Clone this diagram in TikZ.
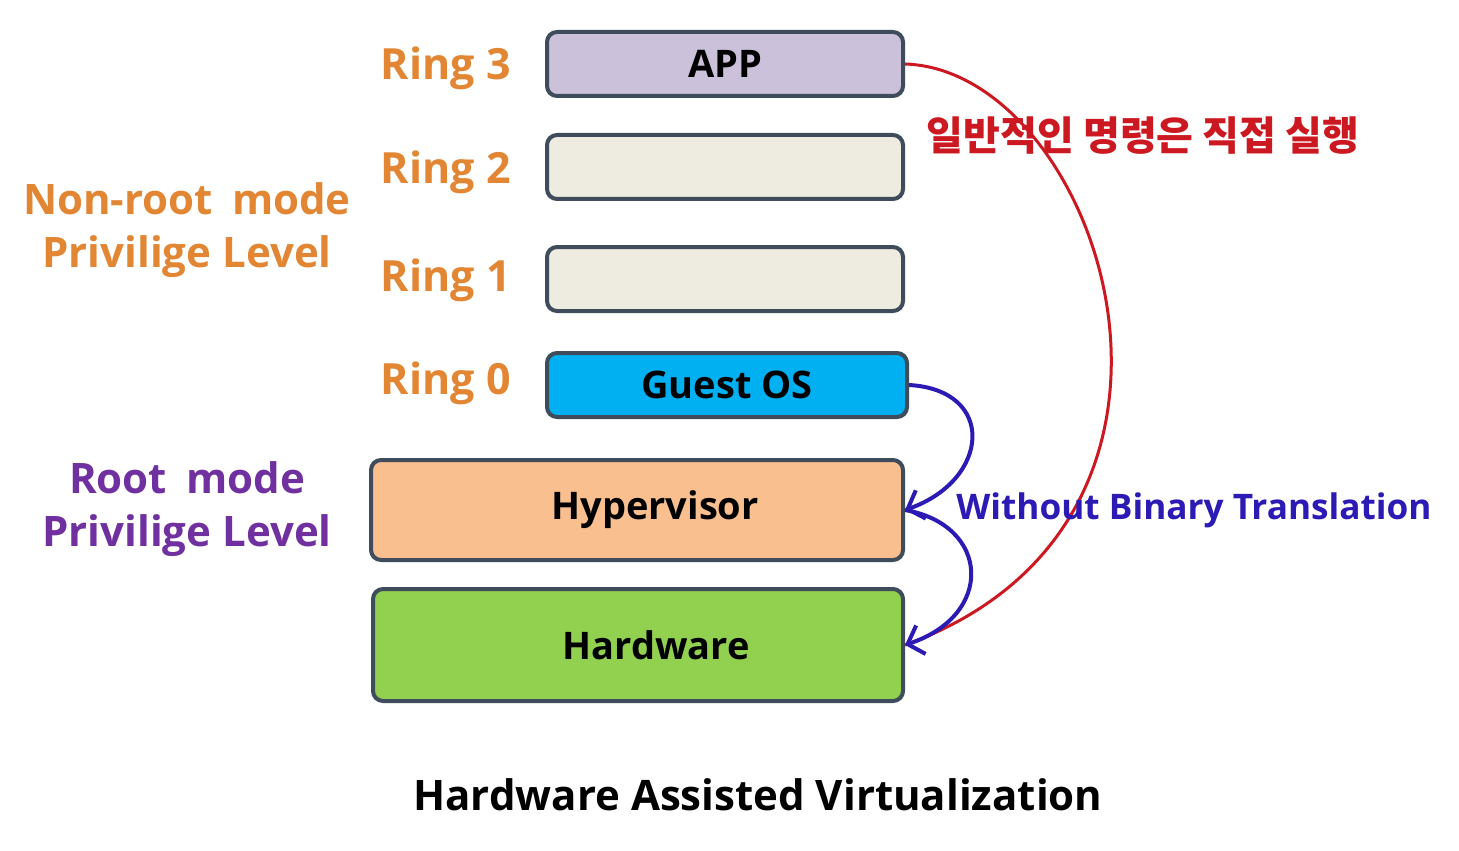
\documentclass[tikz,border=0pt]{standalone}
\usepackage{fontspec}
\setmainfont{Open Sans}
\newfontfamily\kofont{Noto Sans CJK KR}
\usetikzlibrary{arrows.meta}
\definecolor{cadre}{RGB}{62,76,92}
\definecolor{appfill}{RGB}{204,193,218}
\definecolor{ringfill}{RGB}{238,236,225}
\definecolor{guestfill}{RGB}{0,176,240}
\definecolor{hyperfill}{RGB}{250,191,143}
\definecolor{hardfill}{RGB}{146,208,80}
\definecolor{orangetxt}{RGB}{226,134,52}
\definecolor{violettxt}{RGB}{112,48,160}
\definecolor{rougetxt}{RGB}{204,24,32}
\definecolor{bleutxt}{RGB}{44,26,180}
\begin{document}
\begin{tikzpicture}[x=0.5pt,y=-0.5pt,font=\fontsize{19}{23}\selectfont\bfseries,
  box/.style={draw=cadre,line width=2pt,rounded corners=5pt,inner sep=0pt,minimum width=178pt,minimum height=32pt},
  ringlbl/.style={anchor=east,inner sep=0pt,text=orangetxt,font=\fontsize{21.5}{25}\selectfont\bfseries},
  modelbl/.style={align=center,font=\fontsize{21}{26.5}\selectfont\bfseries},
  >={Straight Barb[length=7pt,width=15pt]}]
\useasboundingbox (0,0) rectangle (1459,850);
% les anneaux
\node[box,fill=appfill] (app) at (725,64) {APP};
\node[box,fill=ringfill] (ringb) at (725,167) {};
\node[box,fill=ringfill] (ringa) at (725,279) {};
\node[box,fill=guestfill,minimum width=180pt] (guest) at (727,385) {Guest OS};
\node[box,fill=hyperfill,minimum width=266pt,minimum height=50pt] (hyper) at (637,510) {\hspace*{18pt}Hypervisor};
\node[box,fill=hardfill,minimum width=265pt,minimum height=56pt] (hard) at (638,645) {\hspace*{18pt}Hardware};
\node[ringlbl] (r3) at (511,68) {Ring 3};
\node[ringlbl] (r2) at (511,172) {Ring 2};
\node[ringlbl] (r1) at (511,280) {Ring 1};
\node[ringlbl] (r0) at (511,383) {Ring 0};
% les modes
\node[modelbl,text=orangetxt] (nonroot) at (187,230) {Non-root\hspace{0.2em} mode\\Privilige Level};
\node[modelbl,text=violettxt] (root) at (187,509) {Root\hspace{0.2em} mode\\Privilige Level};
% les fleches
\draw[rougetxt,line width=1.5pt] (app.east) .. controls (1100,70) and (1250,520) .. (hard.east); % execution directe
\draw[bleutxt,line width=2pt,->] (guest.east) .. controls (997,390) and (990,480) .. (hyper.east);
\draw[bleutxt,line width=2pt,->] (hyper.east) .. controls (990,525) and (995,615) .. (hard.east);
\node[text=rougetxt,font=\kofont\fontsize{20}{24}\selectfont\bfseries] (direct) at (1143,136) {일반적인 명령은 직접 실행};
\node[text=bleutxt,font=\fontsize{17.6}{21}\selectfont\bfseries] (sansbt) at (1194,510) {Without Binary Translation};
\node[font=\fontsize{21}{25}\selectfont\bfseries] (titre) at (758,795) {Hardware Assisted Virtualization};
\end{tikzpicture}
\end{document}
